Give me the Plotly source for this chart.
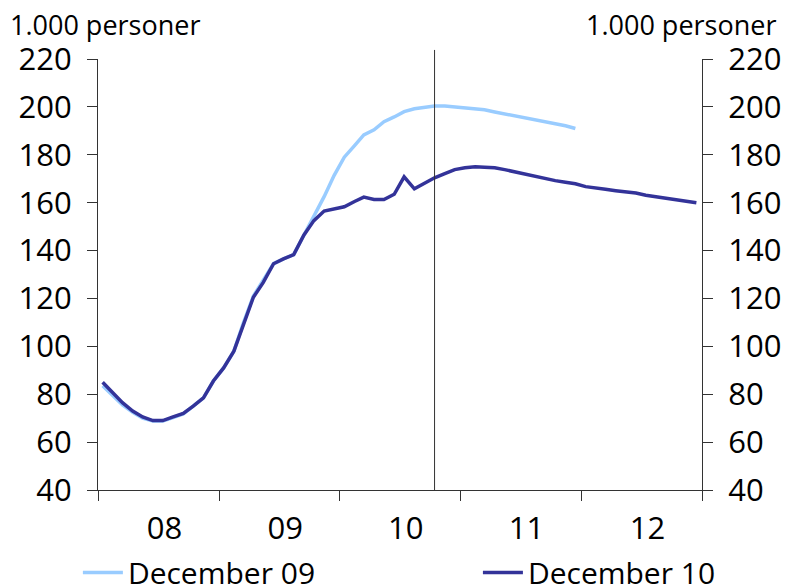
import pandas as pd
import plotly.graph_objects as go

# ---- data ----
months = pd.date_range("2008-01-01", periods=60, freq="MS") + pd.Timedelta(days=14)

dec10 = [85, 80.8, 76.5, 73, 70.5, 69, 69, 70.5, 72, 75, 78.5, 85.5,
         91, 98, 109, 120.5, 126.7, 134.5, 136.5, 138.3, 146.5, 152.5, 156.5, 157.5,
         158.3, 160.5, 162.3, 161.3, 161.3, 163.5, 170.8, 165.8, 168.3, 170.4, 172.1, 173.8,
         174.6, 175, 174.8, 174.6, 173.8, 172.9, 171.9, 170.8, 170, 169.2, 168.5, 167.9,
         166.7, 166.3, 165.6, 165, 164.6, 164, 163.1, 162.5, 161.9, 161.3, 160.4, 160]

dec09 = [83.5, 79.5, 75.5, 72.5, 70, 68.8, 68.8, 70.2, 71.8, 75, 78.5, 85.5,
         91, 98, 109.5, 121, 127.5, 134.5, 136.5, 138.3, 146.5, 154, 162.5, 171.3,
         179, 183.8, 188.3, 190.4, 193.8, 195.8, 198, 199.2, 200, 200.4, 200.4, 200,
         199.8, 199.2, 198.8, 197.9, 197.1, 196.3, 195.4, 194.8, 193.8, 192.9, 192.1, 191]

year_tick_vals = ["2008-07-20", "2009-07-20", "2010-07-20", "2011-07-20", "2012-07-20"]
year_tick_text = ["08", "09", "10", "11", "12"]
y_ticks = [40, 60, 80, 100, 120, 140, 160, 180, 200, 220]
unit_label = "1.000 personer"
vline_date = "2010-10-15"

FONT = "Open Sans"
LIGHT = "#99CCFF"
DARK = "#333399"
AX = "#333333"

fig = go.Figure()
fig.add_trace(go.Scatter(x=months[:len(dec09)], y=dec09, mode="lines", name="December 09",
                         line=dict(color=LIGHT, width=3.5), legend="legend"))
fig.add_trace(go.Scatter(x=months, y=dec10, mode="lines", name="December 10",
                         line=dict(color=DARK, width=3.5), legend="legend2"))
# invisible trace for right axis
fig.add_trace(go.Scatter(x=months[:1], y=dec10[:1], yaxis="y2", mode="lines",
                         showlegend=False, line=dict(width=0), hoverinfo="skip"))

fig.add_shape(type="line", xref="x", yref="paper", x0=vline_date, x1=vline_date,
              y0=0, y1=1.021, line=dict(color=AX, width=1))

yax = dict(range=[40, 220], tickvals=y_ticks, ticks="outside", ticklen=10,
           tickcolor=AX, showline=True, linecolor=AX, linewidth=1, showgrid=False,
           zeroline=False, tickfont=dict(size=31, color="black", family=FONT),
           ticklabelstandoff=9)

leg = dict(orientation="h", xanchor="left", y=-0.131, yanchor="top",
           font=dict(size=30, family=FONT, color="black"),
           itemwidth=40, bgcolor="rgba(0,0,0,0)")

# the page body adds an 8px offset; margins are shifted to compensate
fig.update_layout(
    width=790, height=585,
    margin=dict(l=90, r=96, t=51, b=103, autoexpand=False),
    paper_bgcolor="white", plot_bgcolor="white",
    font=dict(family=FONT, color="black"),
    xaxis=dict(range=["2008-01-01", "2013-01-01"], tickvals=year_tick_vals,
               ticktext=year_tick_text, ticks="", showline=True, linecolor=AX,
               linewidth=1, showgrid=False, zeroline=False, ticklabelstandoff=11,
               tickfont=dict(size=31, color="black", family=FONT),
               minor=dict(ticks="outside", ticklen=10, tickcolor=AX,
                          tick0="2008-01-01", dtick="M12", showgrid=False)),
    yaxis=yax,
    yaxis2=dict(yax, overlaying="y", side="right"),
    showlegend=True,
    legend=dict(leg, x=-0.0333),
    legend2=dict(leg, x=0.629),
    annotations=[
        dict(text=unit_label, xref="paper", yref="paper", x=-0.149, y=1.079,
             xanchor="left", yanchor="middle", showarrow=False,
             font=dict(size=27, family=FONT, color="black")),
        dict(text=unit_label, xref="paper", yref="paper", x=1.125, y=1.079,
             xanchor="right", yanchor="middle", showarrow=False,
             font=dict(size=27, family=FONT, color="black")),
    ],
)

fig.write_html("out.html")
